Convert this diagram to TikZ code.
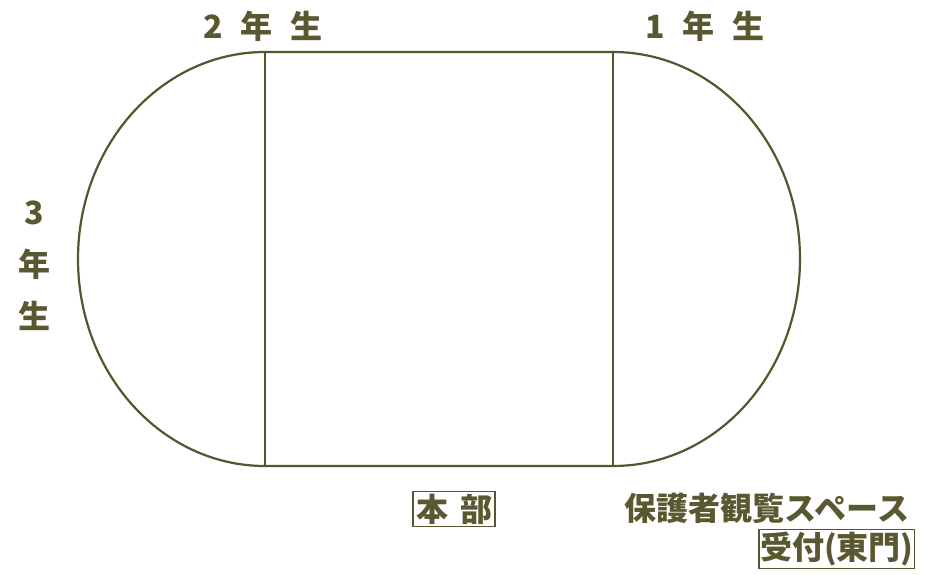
\documentclass[tikz,border=0pt]{standalone}
\usepackage{fontspec}
\newfontfamily\jpfont{Noto Sans CJK JP}[BoldFont={Noto Sans CJK JP Black}]
\usetikzlibrary{positioning}
\definecolor{trackcol}{HTML}{55552E}
\definecolor{labelcol}{HTML}{5A5830}
\newcommand{\gap}{\hspace{18pt}}

\begin{document}
\begin{tikzpicture}[x=1pt, y=-1pt,
    every node/.style = {font=\jpfont\bfseries\fontsize{32}{36}\selectfont, text=labelcol, inner sep=2pt},
    track/.style = {draw=trackcol, line width=2.2pt},
    boxed/.style = {draw=trackcol, line width=1.2pt, inner ysep=2.5pt, inner xsep=1pt}]
  \useasboundingbox (0,0) rectangle (926,574);
  % corners of the field
  \coordinate (tl) at (265,52);
  \coordinate (tr) at (613,52);
  \coordinate (bl) at (265,466);
  \coordinate (br) at (613,466);

  \draw[track] (tl) -- (tr) arc[start angle=90, end angle=-90, x radius=187, y radius=-207]
    -- (bl) arc[start angle=-90, end angle=-270, x radius=187, y radius=-207];
  \draw[track, line width=1.6pt] (tl) -- (bl);
  \draw[track, line width=1.6pt] (tr) -- (br);

  \node (second) at (263,26) {2\gap 年\gap 生};
  \node (first)  at (705,26) {1\gap 年\gap 生};
  \node (third)  [align=center, font=\jpfont\bfseries\fontsize{32}{52}\selectfont] at (34,266) {3\\年\\生};
  \node (hq)     [boxed, inner xsep=3pt] at (454,509) {本\hspace{12pt}部};
  \node (guests) at (767,508) {保護者観覧スペース};
  \node (gate)   [boxed, below=3pt of guests.south east, anchor=north east, xshift=4pt] {受付(東門)};
\end{tikzpicture}
\end{document}
